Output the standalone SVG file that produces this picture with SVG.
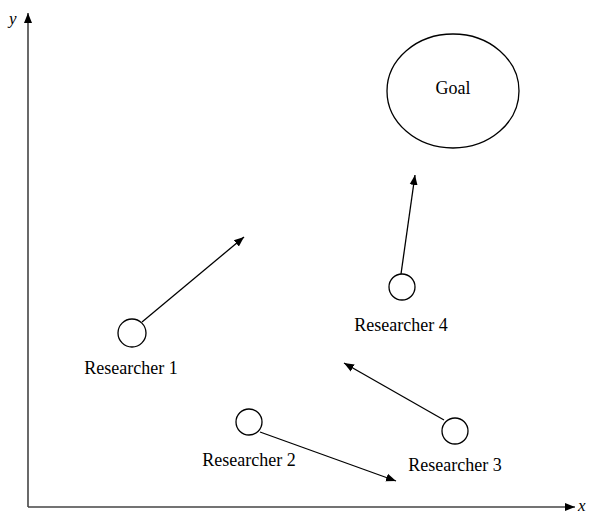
<svg xmlns="http://www.w3.org/2000/svg" width="589" height="514" viewBox="0 0 589 514">
<style>
text{font-family:"Liberation Serif","Times New Roman",serif;font-size:18px;fill:#000}
.ax{font-style:italic;font-size:17px}
.node{fill:#fff;stroke:#000;stroke-width:1.3}
.edge{stroke:#000;stroke-width:1.3;fill:none;marker-end:url(#ah)}
.axis{stroke:#444;stroke-width:1.6;fill:none;marker-end:url(#ah2)}
</style>
<defs>
<marker id="ah" viewBox="0 0 10 10" refX="10" refY="5" markerWidth="10" markerHeight="10" markerUnits="userSpaceOnUse" orient="auto">
<path d="M0,1 L10,5 L0,9 Z" fill="#000"/>
</marker>
<marker id="ah2" viewBox="0 0 10 10" refX="10" refY="5" markerWidth="10" markerHeight="10" markerUnits="userSpaceOnUse" orient="auto">
<path d="M0,1 L10,5 L0,9 Z" fill="#000"/>
</marker>
</defs>
<rect width="589" height="514" fill="#fff"/>
<g id="axes">
<path class="axis" d="M28,507 L28,13"/>
<path class="axis" d="M28,507 L575,507"/>
<text class="ax" x="9" y="24">y</text>
<text class="ax" x="578" y="511">x</text>
</g>
<g id="connectors">
<path class="edge" d="M142,322 L244,237"/>
<path class="edge" d="M401,274 L415,175"/>
<path class="edge" d="M260,432 L396,481"/>
<path class="edge" d="M444,420 L344,363"/>
</g>
<g id="goal">
<ellipse class="node" cx="453" cy="91" rx="66" ry="57"/>
<text x="453" y="94" text-anchor="middle">Goal</text>
</g>
<g id="researcher1">
<circle class="node" cx="132" cy="333" r="14"/>
<text x="131" y="374" text-anchor="middle">Researcher 1</text>
</g>
<g id="researcher2">
<circle class="node" cx="249" cy="422" r="13"/>
<text x="249" y="466" text-anchor="middle">Researcher 2</text>
</g>
<g id="researcher3">
<circle class="node" cx="455" cy="431" r="13"/>
<text x="455" y="471" text-anchor="middle">Researcher 3</text>
</g>
<g id="researcher4">
<circle class="node" cx="402" cy="287" r="13"/>
<text x="401" y="331" text-anchor="middle">Researcher 4</text>
</g>
</svg>
